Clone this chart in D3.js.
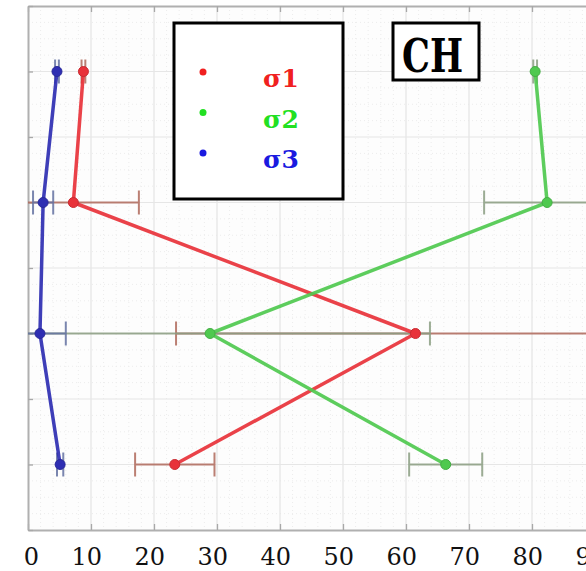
<!DOCTYPE html>
<html>
<head>
<meta charset="utf-8">
<script src="https://cdn.jsdelivr.net/npm/d3@7"></script>
<style>
  html, body { margin: 0; padding: 0; background: #fff; overflow: hidden; }
  svg { display: block; }
</style>
</head>
<body>
<svg id="chart" width="586" height="571"></svg>
<script>
// ---- data ----
const depths = [1, 2, 3, 4];
const sigma1 = [8.8, 7.2, 61.5, 23.3];
const sigma1Err = [0.3, 10.4, 38.0, 6.3];
const sigma2 = [80.5, 82.4, 28.9, 66.3];
const sigma2Err = [0.3, 10.0, 34.9, 5.8];
const sigma3 = [4.6, 2.4, 1.9, 5.1];
const sigma3Err = [0.3, 1.6, 4.1, 0.5];
const seriesNames = ["σ1", "σ2", "σ3"];
const xTickValues = [0, 10, 20, 30, 40, 50, 60, 70, 80, 90];
const yTickValues = [0.5, 1, 1.5, 2, 2.5, 3, 3.5, 4, 4.5];
const panelLabel = "CH";

// ---- styling ----
const lineColors = ["#e8323a", "#4fc94f", "#2e2eb2"];
const errColors = ["#b06a5c", "#8b9e82", "#6472a2"];
const legendColors = ["#f02020", "#22e022", "#1a1ae0"];

const svg = d3.select("#chart");
const plotLeft = 28, plotTop = 6, plotBottom = 530, plotRight = 586;
const x = d3.scaleLinear().domain([0, 100]).range([plotLeft, plotLeft + 630]);
const y = d3.scaleLinear().domain([0.5, 4.5]).range([plotTop, plotBottom]);

// background plot area
svg.append("rect").attr("x", plotLeft).attr("y", plotTop)
  .attr("width", plotRight - plotLeft).attr("height", plotBottom - plotTop).attr("fill", "#fdfdfd");

// minor grid
const minorX = d3.range(0, 101, 2).filter(v => v % 10 !== 0);
const minorY = d3.range(0.5, 4.5001, 0.125).filter(v => Math.abs(v * 2 - Math.round(v * 2)) > 1e-6);
svg.append("g").selectAll("line").data(minorX).join("line")
  .attr("x1", d => x(d)).attr("x2", d => x(d)).attr("y1", plotTop).attr("y2", plotBottom)
  .attr("stroke", "#ececec").attr("stroke-width", 1).attr("stroke-dasharray", "1,3");
svg.append("g").selectAll("line").data(minorY).join("line")
  .attr("y1", d => y(d)).attr("y2", d => y(d)).attr("x1", plotLeft).attr("x2", plotRight)
  .attr("stroke", "#ececec").attr("stroke-width", 1).attr("stroke-dasharray", "1,3");

// major grid
svg.append("g").selectAll("line").data(xTickValues.slice(1)).join("line")
  .attr("x1", d => x(d)).attr("x2", d => x(d)).attr("y1", plotTop).attr("y2", plotBottom)
  .attr("stroke", "#e4e4e4").attr("stroke-width", 1.2);
svg.append("g").selectAll("line").data(yTickValues.slice(1, -1)).join("line")
  .attr("y1", d => y(d)).attr("y2", d => y(d)).attr("x1", plotLeft).attr("x2", plotRight)
  .attr("stroke", "#e6e6e6").attr("stroke-width", 1.2);

// axes (frame with inward ticks)
const axisColor = "#b0b0b0";
const bottomAxis = d3.axisBottom(x).tickValues(xTickValues).tickSizeInner(-6).tickSizeOuter(0).tickFormat("");
const topAxis = d3.axisTop(x).tickValues(xTickValues).tickSizeInner(-6).tickSizeOuter(0).tickFormat("");
const leftAxis = d3.axisLeft(y).tickValues(yTickValues).tickSizeInner(-5).tickSizeOuter(0).tickFormat("");
function styleAxis(g) {
  g.selectAll("path").attr("stroke", axisColor).attr("stroke-width", 2);
  g.selectAll("line").attr("stroke", "#a8a8a8").attr("stroke-width", 1.3);
}
svg.append("g").attr("transform", `translate(0,${plotBottom})`).call(bottomAxis).call(styleAxis);
svg.append("g").attr("transform", `translate(0,${plotTop})`).call(topAxis).call(styleAxis);
svg.append("g").attr("transform", `translate(${plotLeft},0)`).call(leftAxis).call(styleAxis);

// x tick labels
svg.append("g").selectAll("text").data(xTickValues).join("text")
  .attr("x", d => x(d) + 11).attr("y", 565)
  .attr("text-anchor", "end")
  .attr("font-family", "DejaVu Serif, serif").attr("font-size", 24)
  .attr("fill", "#111").text(d => d);

// clip region for data
svg.append("clipPath").attr("id", "plotClip").append("rect")
  .attr("x", plotLeft).attr("y", plotTop).attr("width", plotRight - plotLeft).attr("height", plotBottom - plotTop);
const plot = svg.append("g").attr("clip-path", "url(#plotClip)");

const series = [
  { vals: sigma1, errs: sigma1Err },
  { vals: sigma2, errs: sigma2Err },
  { vals: sigma3, errs: sigma3Err }
];

// error bars
const capH = 12;
series.forEach((s, i) => {
  const pts = depths.map((d, j) => ({ d, v: s.vals[j], e: s.errs[j] }));
  const g = plot.append("g").attr("stroke", errColors[i]).attr("stroke-width", 2).attr("opacity", 0.85);
  g.selectAll("line.bar").data(pts).join("line").attr("class", "bar")
    .attr("x1", p => x(p.v - p.e)).attr("x2", p => x(p.v + p.e))
    .attr("y1", p => y(p.d)).attr("y2", p => y(p.d));
  g.selectAll("line.capL").data(pts).join("line").attr("class", "capL")
    .attr("x1", p => x(p.v - p.e)).attr("x2", p => x(p.v - p.e))
    .attr("y1", p => y(p.d) - capH).attr("y2", p => y(p.d) + capH);
  g.selectAll("line.capR").data(pts).join("line").attr("class", "capR")
    .attr("x1", p => x(p.v + p.e)).attr("x2", p => x(p.v + p.e))
    .attr("y1", p => y(p.d) - capH).attr("y2", p => y(p.d) + capH);
});

// lines and markers
series.forEach((s, i) => {
  const pts = depths.map((d, j) => ({ d, v: s.vals[j] }));
  plot.append("path").datum(pts)
    .attr("d", d3.line().x(p => x(p.v)).y(p => y(p.d)))
    .attr("fill", "none").attr("stroke", lineColors[i]).attr("stroke-width", 3.5)
    .attr("stroke-linejoin", "round").attr("opacity", 0.92);
  plot.append("g").selectAll("circle").data(pts).join("circle")
    .attr("cx", p => x(p.v)).attr("cy", p => y(p.d)).attr("r", 5)
    .attr("fill", lineColors[i]).attr("stroke", d3.color(lineColors[i]).darker(0.4)).attr("stroke-width", 1);
});

// legend
const lg = svg.append("g");
lg.append("rect").attr("x", 174).attr("y", 23).attr("width", 169).attr("height", 176)
  .attr("fill", "#fff").attr("stroke", "#000").attr("stroke-width", 3);
seriesNames.forEach((name, i) => {
  const cy = 72 + i * 40.5;
  lg.append("circle").attr("cx", 203).attr("cy", cy).attr("r", 3.5).attr("fill", legendColors[i]);
  lg.append("text").attr("x", 263).attr("y", cy + 15)
    .attr("font-family", "DejaVu Serif, serif").attr("font-weight", "bold").attr("font-size", 25)
    .attr("fill", legendColors[i]).text(name);
});

// panel label
const pl = svg.append("g");
pl.append("rect").attr("x", 393).attr("y", 23).attr("width", 86).attr("height", 57)
  .attr("fill", "#fff").attr("stroke", "#000").attr("stroke-width", 3);
pl.append("text").attr("x", 402).attr("y", 72)
  .attr("font-family", "DejaVu Serif, serif").attr("font-weight", "bold").attr("font-size", 46)
  .attr("textLength", 61).attr("lengthAdjust", "spacingAndGlyphs")
  .attr("fill", "#000").text(panelLabel);
</script>
</body>
</html>
